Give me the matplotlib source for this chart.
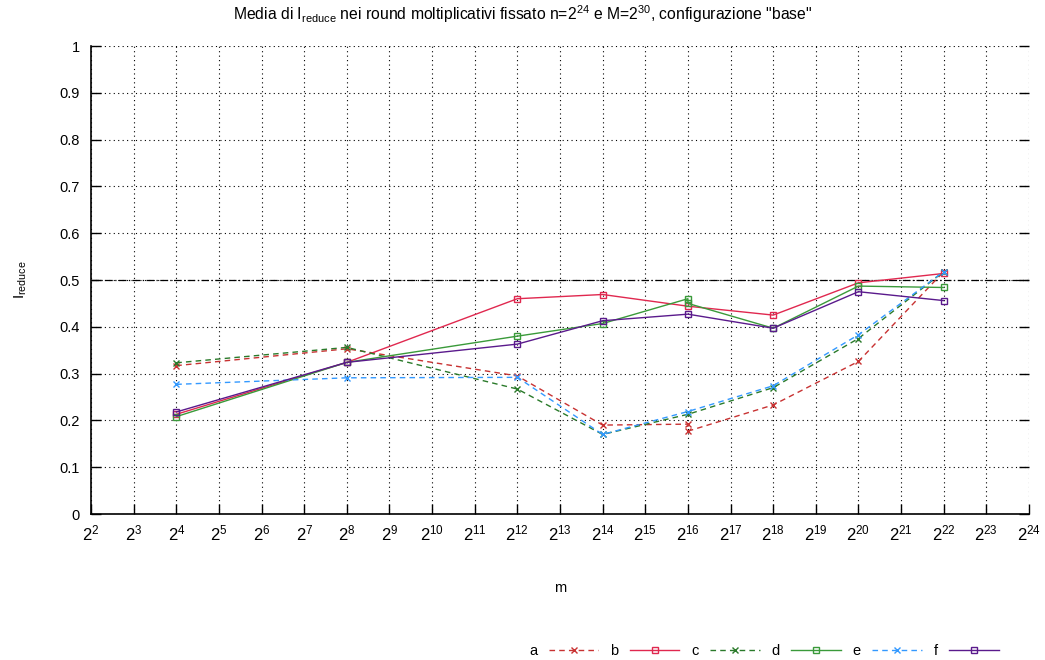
import matplotlib
matplotlib.use('Agg')
import matplotlib.pyplot as plt
import numpy as np

plt.rcParams['font.family'] = ['Liberation Sans', 'DejaVu Sans']
plt.rcParams['mathtext.fontset'] = 'custom'
plt.rcParams['mathtext.rm'] = 'Liberation Sans'
plt.rcParams['mathtext.it'] = 'Liberation Sans'
plt.rcParams['mathtext.default'] = 'regular'

# esponenti di m (2^k) e valori medi di I_reduce per ogni serie
exp_a = [4, 8, 12, 14, 16, 16, 18, 20, 22]
val_a = [0.317, 0.353, 0.295, 0.190, 0.192, 0.177, 0.233, 0.326, 0.518]

exp_b = [4, 8, 12, 14, 16, 18, 20, 22]
val_b = [0.213, 0.324, 0.460, 0.469, 0.444, 0.425, 0.494, 0.514]

exp_c = [4, 8, 12, 14, 16, 18, 20, 22]
val_c = [0.323, 0.356, 0.267, 0.170, 0.213, 0.270, 0.375, 0.518]

exp_d = [4, 8, 12, 14, 16, 16, 18, 20, 22]
val_d = [0.208, 0.324, 0.380, 0.407, 0.460, 0.450, 0.397, 0.487, 0.484]

exp_e = [4, 8, 12, 14, 16, 18, 20, 22]
val_e = [0.277, 0.291, 0.292, 0.170, 0.219, 0.274, 0.383, 0.518]

exp_f = [4, 8, 12, 14, 16, 18, 20, 22]
val_f = [0.218, 0.324, 0.363, 0.413, 0.427, 0.397, 0.475, 0.456]

labels = ['a', 'b', 'c', 'd', 'e', 'f']
xtick_exp = list(range(2, 25))
ytick_vals = [0, 0.1, 0.2, 0.3, 0.4, 0.5, 0.6, 0.7, 0.8, 0.9, 1]

series = [
    (exp_a, val_a, '#c83232', (0, (4, 3)), 'x'),
    (exp_b, val_b, '#e0284f', '-', 's'),
    (exp_c, val_c, '#2a7a2a', (0, (4, 3)), 'x'),
    (exp_d, val_d, '#3a9a3a', '-', 's'),
    (exp_e, val_e, '#3399ff', (0, (4, 3)), 'x'),
    (exp_f, val_f, '#5a1a8c', '-', 's'),
]

fig = plt.figure(figsize=(10.45, 6.6), dpi=100)
ax = fig.add_axes([91 / 1045, 1 - 514 / 660, 938 / 1045, 468 / 660])

for (ex, v, col, ls, mk), lab in zip(series, labels):
    x = 2.0 ** np.array(ex)
    ax.plot(x, v, color=col, linestyle=ls, linewidth=1.0, marker=mk,
            markersize=4.5, markerfacecolor='none', markeredgecolor=col,
            markeredgewidth=1.0, label=lab)

ax.axhline(0.5, color='black', linewidth=0.9, linestyle=(0, (6, 2, 1, 2)), zorder=1)

ax.set_xscale('log', base=2)
ax.set_xlim(2 ** 2, 2 ** 24)
ax.set_ylim(0, 1)
ax.set_xticks([2.0 ** k for k in xtick_exp])
ax.set_xticklabels(['$2^{%d}$' % k for k in xtick_exp], fontsize=12)
ax.minorticks_off()
ax.set_yticks(ytick_vals)
ax.set_yticklabels(['%g' % v for v in ytick_vals], fontsize=10.5)

ax.grid(True, color='black', linestyle=(0, (1, 3)), linewidth=0.8)
ax.tick_params(direction='in', length=7, width=1, right=True, top=False)
ax.tick_params(axis='x', pad=7)
ax.tick_params(axis='y', pad=8)
ax.spines['top'].set_visible(False)
ax.spines['right'].set_visible(False)
ax.spines['left'].set_linewidth(1.2)
ax.spines['bottom'].set_linewidth(1.2)

ax.set_xlabel('m', fontsize=10.5, labelpad=27)
ax.set_ylabel('I$_{reduce}$', fontsize=11, labelpad=22)

fig.text(0.5, 1 - 14 / 660, 'Media di I$_{reduce}$ nei round moltiplicativi fissato n=2$^{24}$ e M=2$^{30}$, configurazione "base"',
         ha='center', va='center', fontsize=11.3)

fig.legend(loc='center right', bbox_to_anchor=(999 / 1045, 1 - 651 / 660), ncol=6,
           frameon=False, markerfirst=False, handlelength=3.4, columnspacing=0.8,
           handletextpad=0.8, fontsize=10.5, borderaxespad=0, borderpad=0)

fig.savefig('out.png', dpi=100)
